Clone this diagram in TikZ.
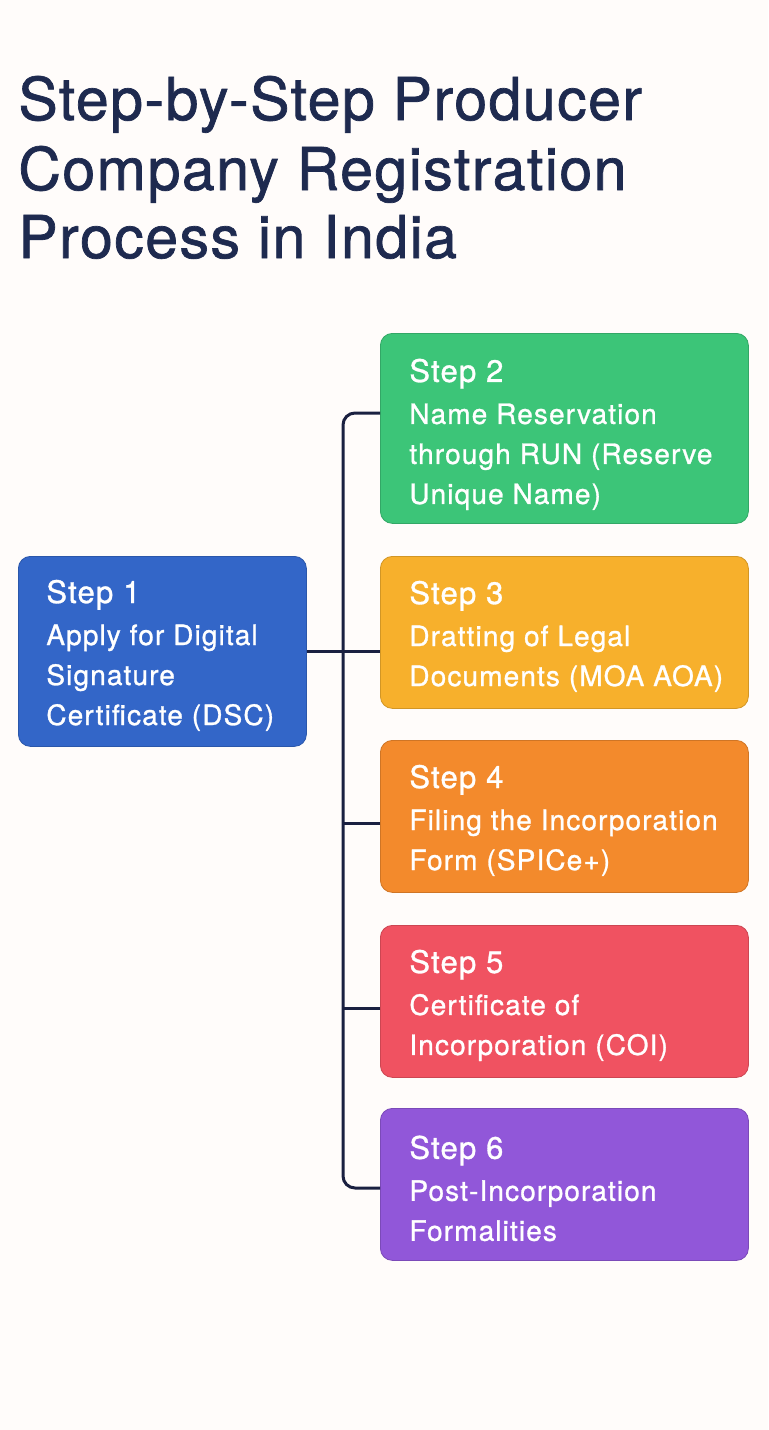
\documentclass[tikz,border=0pt]{standalone}
\usepackage{fontspec}
\setmainfont{TeX Gyre Heros}
\newfontfamily\titlefont{TeX Gyre Heros}[FakeBold=1.2, LetterSpace=2.5]
\newfontfamily\boxfont{TeX Gyre Heros}[FakeBold=1.0, LetterSpace=4]
\usetikzlibrary{positioning,calc}

\definecolor{titleblue}{HTML}{1E2A4F}
\definecolor{linkblue}{HTML}{1A2040}
\definecolor{stepblue}{HTML}{3366C8}
\definecolor{stepgreen}{HTML}{3CC578}
\definecolor{stepamber}{HTML}{F7B02C}
\definecolor{steporange}{HTML}{F38A2C}
\definecolor{stepred}{HTML}{F05261}
\definecolor{steppurple}{HTML}{9157D9}

\tikzset{
  stepbox/.style={anchor=north west, rounded corners=6pt, minimum width=184pt,
    minimum height=76pt, inner sep=0pt, fill=#1, draw=#1!85!black, line width=0.4pt},
  steptext/.style={anchor=west, align=left, text=white, inner sep=0pt,
    font=\boxfont\fontsize{14}{20}\selectfont},
  titleline/.style={anchor=base west, inner sep=0pt, text=titleblue,
    font=\titlefont\fontsize{29.5}{35}\selectfont},
  link/.style={draw=linkblue, line width=1.5pt}
}
\newcommand{\steplabel}[1]{{\fontsize{15.5}{20}\selectfont #1}\\[1pt]}

\begin{document}
\begin{tikzpicture}[x=0.5pt,y=-0.5pt]
\fill[white!98!orange] (0,0) rectangle (768,1430);
\useasboundingbox (0,0) rectangle (768,1430);

% title
\node[titleline] (title1) at (18,120) {Step-by-Step Producer};
\node[titleline] (title2) at (18,190) {Company Registration};
\node[titleline] (title3) at (18,258) {Process in India};

% boxes
\node[stepbox=stepblue, minimum width=144pt, minimum height=95pt] (s1) at (18,556) {};
\node[stepbox=stepgreen, minimum height=95pt] (s2) at (380,333) {};
\node[stepbox=stepamber] (s3) at (380,556) {};
\node[stepbox=steporange] (s4) at (380,740) {};
\node[stepbox=stepred] (s5) at (380,925) {};
\node[stepbox=steppurple] (s6) at (380,1108) {};

% texts
\node[steptext] (t1) at ($(s1.west)+(28,4)$) {\steplabel{Step 1}Apply for Digital\\Signature\\Certificate (DSC)};
\node[steptext] (t2) at ($(s2.west)+(29,6)$) {\steplabel{Step 2}Name Reservation\\through RUN (Reserve\\Unique Name)};
\node[steptext] (t3) at ($(s3.west)+(29,4)$) {\steplabel{Step 3}Dratting of Legal\\Documents (MOA AOA)};
\node[steptext] (t4) at ($(s4.west)+(29,4)$) {\steplabel{Step 4}Filing the Incorporation\\Form (SPICe+)};
\node[steptext] (t5) at ($(s5.west)+(29,4)$) {\steplabel{Step 5}Certificate of\\Incorporation (COI)};
\node[steptext] (t6) at ($(s6.west)+(29,4)$) {\steplabel{Step 6}Post-Incorporation\\Formalities};

% connectors
\coordinate (top) at (343,413);
\coordinate (bot) at (343,1188);
\draw[link, rounded corners=6pt] (top -| s2.west) -- (top) -- (bot) -- (bot -| s6.west);
\draw[link] (s1.east) -- (s1.east -| s3.west);
\coordinate (j4) at ($(s4.west)+(0,7)$);
\draw[link] (j4) -- (j4 -| top);
\coordinate (j5) at ($(s5.west)+(0,7)$);
\draw[link] (j5) -- (j5 -| top);
\end{tikzpicture}
\end{document}
